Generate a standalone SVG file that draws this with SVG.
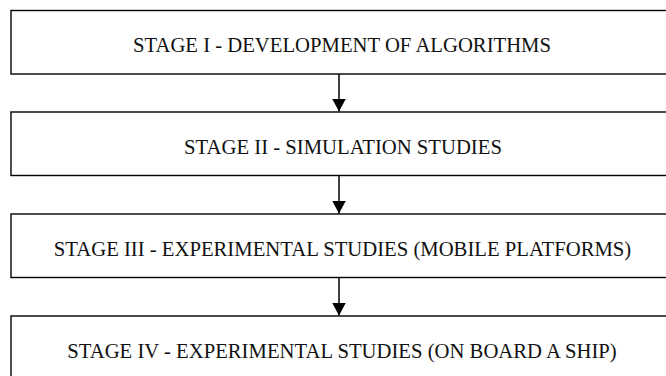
<svg xmlns="http://www.w3.org/2000/svg" width="666" height="376" viewBox="0 0 666 376">
<style>
.box{fill:#fff;stroke:#000;stroke-width:1.4}
.lbl{font-size:20.7px;fill:#111;text-anchor:middle}
.con{stroke:#000;stroke-width:1.5;fill:none}
</style>
<defs>
<marker id="ah" markerUnits="userSpaceOnUse" markerWidth="13" markerHeight="14" refX="13" refY="7" orient="auto" viewBox="0 0 13 14">
<path d="M0,0 L13,7 L0,14 Z" fill="#000"/>
</marker>
</defs>
<rect width="666" height="376" fill="#fff"/>
<g font-family="'Liberation Serif', 'Times New Roman', Times, serif">
<g id="stage1"><rect class="box" x="11" y="10.5" width="680" height="63.5"/><text class="lbl" x="342" y="52.3">STAGE I - DEVELOPMENT OF ALGORITHMS</text></g>
<g id="stage2"><rect class="box" x="11" y="112" width="680" height="63.5"/><text class="lbl" x="343" y="154.3">STAGE II - SIMULATION STUDIES</text></g>
<g id="stage3"><rect class="box" x="11" y="214" width="680" height="63.5"/><text class="lbl" x="342.5" y="256.3">STAGE III - EXPERIMENTAL STUDIES (MOBILE PLATFORMS)</text></g>
<g id="stage4"><rect class="box" x="11" y="316" width="680" height="63.5"/><text class="lbl" x="342" y="358.3">STAGE IV - EXPERIMENTAL STUDIES (ON BOARD A SHIP)</text></g>
</g>
<g id="connectors">
<path class="con" d="M339,74 V111.5" marker-end="url(#ah)"/>
<path class="con" d="M339,175.5 V213.5" marker-end="url(#ah)"/>
<path class="con" d="M339,277.5 V315.5" marker-end="url(#ah)"/>
</g>
</svg>
